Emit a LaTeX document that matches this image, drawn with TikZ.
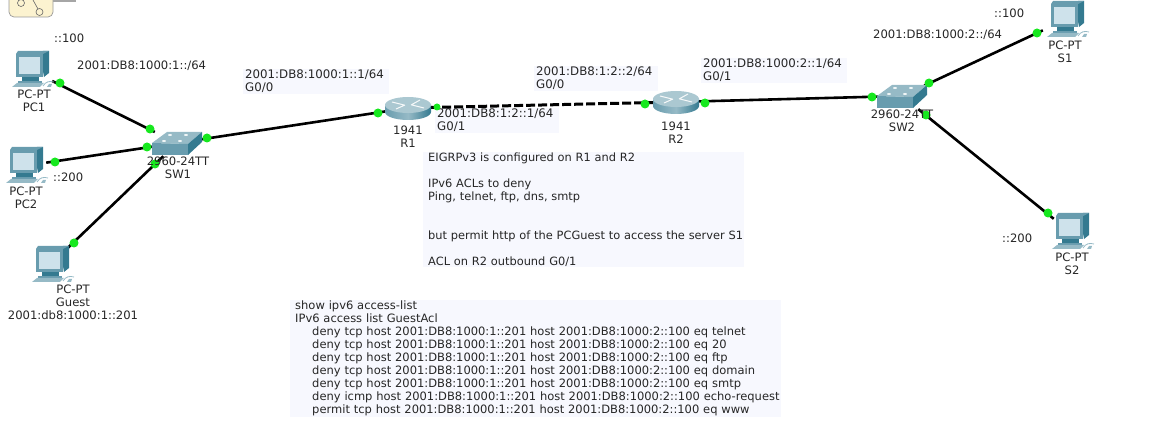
\documentclass[tikz,border=0pt]{standalone}
\usepackage{fontspec}
\setmainfont{DejaVu Sans}
\usepackage{tikz}
\usetikzlibrary{positioning}
\definecolor{ledGreen}{RGB}{22,232,30}
\definecolor{notePale}{RGB}{247,248,254}
\definecolor{devDark}{RGB}{52,122,144}
\definecolor{devMid}{RGB}{104,156,174}
\definecolor{devLight}{RGB}{150,186,198}
\definecolor{devScreen}{RGB}{206,226,235}
\definecolor{toolCream}{RGB}{252,243,208}
\tikzset{
  net/dev/.style={rectangle, inner sep=0pt, minimum width=44pt, minimum height=26pt},
  net/txt/.style={font=\fontsize{11.6}{13}\selectfont, align=center, inner sep=0pt, text=black!85},
  net/note/.style={font=\fontsize{11.8}{13}\selectfont, align=left, anchor=north west,
    fill=notePale, inner xsep=2pt, inner ysep=1pt, text=black!85},
  net/body/.style={net/note, inner xsep=0.5pt},
  net/addr/.style={net/txt, anchor=west},
  net/led/.style={circle, fill=ledGreen, inner sep=0pt, minimum size=9pt},
  net/link/.style={line width=2.6pt, draw=black},
  net/pcicon/.pic={
    \fill[devDark] (10,-16) -- (13,-19) -- (19,-19) -- (19,3) -- (14,7) -- cycle;
    \fill[devMid] (-14,-16) -- (-12,-19) -- (19,-19) -- (13,-16) -- cycle;
    \fill[devMid] (-14,-16) rectangle (13,7);
    \fill[devScreen] (-11,-13) rectangle (10,4);
    \fill[devDark] (-8,7) rectangle (9,11);
    \fill[devMid] (-12,11) -- (12,11) -- (12,13) -- (-12,13) -- cycle;
    \fill[devLight] (-18,17) -- (-13,13) -- (14,13) -- (10,17) -- cycle;
    \draw[devLight, line width=0.8pt] (13,16) .. controls (16,11) and (20,11) .. (24,12);
    \fill[devLight] (17,17) -- (19,14) -- (22,14) -- (21,17) -- cycle;
  },
  net/switchicon/.pic={
    \fill[devLight] (-25,0) -- (-10,-11) -- (25,-11) -- (11,1) -- cycle;
    \fill[devMid] (-25,0) -- (11,1) -- (11,12) -- (-25,12) -- cycle;
    \fill[devDark] (11,1) -- (25,-11) -- (25,-1) -- (11,12) -- cycle;
    \fill[white!85!devLight] (-7,-8) ellipse [x radius=2, y radius=1];
    \fill[white!85!devLight] (9,-8) ellipse [x radius=2, y radius=1];
    \fill[white!85!devLight] (-13,-2) ellipse [x radius=2, y radius=1];
    \fill[white!85!devLight] (3,-2) ellipse [x radius=2, y radius=1];
  },
  net/routericon/.pic={
    \path[left color=devMid, right color=devDark, middle color=devLight]
      (-23,-3) -- (-23,4) arc[start angle=180, end angle=0, x radius=23, y radius=8] -- (23,-3) -- cycle;
    \fill[devLight!80!white] (0,-3) ellipse [x radius=23, y radius=8];
    \draw[white!90!devLight, line width=1pt] (-16,-6) -- (-4,-3) (16,0) -- (4,-3) (-12,1) -- (-3,-3) (12,-8) -- (3,-3);
  }
}
\begin{document}
\begin{tikzpicture}[x=1pt, y=-1pt]
  \useasboundingbox (0,0) rectangle (1173,427);

  \node[net/dev] (PC1) at (30,70) {};
  \node[net/dev] (PC2) at (24,166) {};
  \node[net/dev] (Guest) at (50,265) {};
  \node[net/dev] (SW1) at (177,143) {};
  \node[net/dev] (R1) at (408,108) {};
  \node[net/dev] (R2) at (676,102) {};
  \node[net/dev] (SW2) at (902,96) {};
  \node[net/dev] (S1) at (1065,20) {};
  \node[net/dev] (S2) at (1070,232) {};

  \node[net/note, text width=142pt] (n1) at (243,68.5) {2001:DB8:1000:1::1/64\\G0/0};
  \node[net/note, text width=120pt] (n2) at (435,107.5) {2001:DB8:1:2::1/64\\G0/1};
  \node[net/note, text width=120pt] (n3) at (534,65.5) {2001:DB8:1:2::2/64\\G0/0};
  \node[net/note, text width=142pt] (n4) at (701,57.5) {2001:DB8:1000:2::1/64\\G0/1};
  \node[net/body, font=\fontsize{11.4}{13}\selectfont, text width=320pt] (n5) at (423,151.5) {%
    \hspace*{4.5pt}EIGRPv3 is configured on R1 and R2\\[13pt]
    \hspace*{4.5pt}IPv6 ACLs to deny\\
    \hspace*{4.5pt}Ping, telnet, ftp, dns, smtp\\[26pt]
    \hspace*{4.5pt}but permit http of the PCGuest to access the server S1\\[13pt]
    \hspace*{4.5pt}ACL on R2 outbound G0/1};
  \node[net/body, font=\fontsize{11.5}{13}\selectfont, text width=490pt] (n6) at (290,299.5) {%
    \hspace*{4.5pt}show ipv6 access-list\\
    \hspace*{4.5pt}IPv6 access list GuestAcl\\
    \hspace*{21.5pt}deny tcp host 2001:DB8:1000:1::201 host 2001:DB8:1000:2::100 eq telnet\\
    \hspace*{21.5pt}deny tcp host 2001:DB8:1000:1::201 host 2001:DB8:1000:2::100 eq 20\\
    \hspace*{21.5pt}deny tcp host 2001:DB8:1000:1::201 host 2001:DB8:1000:2::100 eq ftp\\
    \hspace*{21.5pt}deny tcp host 2001:DB8:1000:1::201 host 2001:DB8:1000:2::100 eq domain\\
    \hspace*{21.5pt}deny tcp host 2001:DB8:1000:1::201 host 2001:DB8:1000:2::100 eq smtp\\
    \hspace*{21.5pt}deny icmp host 2001:DB8:1000:1::201 host 2001:DB8:1000:2::100 echo-request\\
    \hspace*{21.5pt}permit tcp host 2001:DB8:1000:1::201 host 2001:DB8:1000:2::100 eq www};

  \draw[net/link] (PC1) -- (SW1);
  \draw[net/link] (PC2) -- (SW1);
  \draw[net/link] (Guest) -- (SW1);
  \draw[net/link] (SW1) -- (R1);
  \draw[net/link, line width=3pt, dash pattern=on 9pt off 3pt] (R1) -- (R2);
  \draw[net/link] (R2) -- (SW2);
  \draw[net/link] (SW2) -- (S1);
  \draw[net/link] (SW2) -- (S2);

  \pic at (PC1) {net/pcicon};
  \pic at (PC2) {net/pcicon};
  \pic at (Guest) {net/pcicon};
  \pic at (S1) {net/pcicon};
  \pic at (S2) {net/pcicon};
  \pic at (SW1) {net/switchicon};
  \pic at (SW2) {net/switchicon};
  \pic at (R1) {net/routericon};
  \pic at (R2) {net/routericon};

  \node[net/led] (l1) at (60,83) {};
  \node[net/led] (l2) at (150,129) {};
  \node[net/led] (l3) at (55,162) {};
  \node[net/led] (l4) at (147,147) {};
  \node[net/led] (l5) at (74,243) {};
  \node[net/led] (l6) at (155,164) {};
  \node[net/led] (l7) at (207,138) {};
  \node[net/led] (l8) at (378,113) {};
  \node[net/led, minimum size=7pt] (l9) at (437,107) {};
  \node[net/led] (l10) at (645,104) {};
  \node[net/led] (l11) at (705,103) {};
  \node[net/led] (l12) at (872,97) {};
  \node[net/led] (l13) at (929,83) {};
  \node[net/led] (l14) at (1037,33) {};
  \node[net/led] (l15) at (926,115) {};
  \node[net/led] (l16) at (1048,213) {};

  \node[net/txt] (PC1t) at (34,100.5) {PC-PT\\PC1};
  \node[net/txt] (PC2t) at (26,197.5) {PC-PT\\PC2};
  \node[net/txt] (Guestt) at (73,302) {PC-PT\\Guest\\2001:db8:1000:1::201};
  \node[net/txt] (SW1t) at (178,167.5) {2960-24TT\\SW1};
  \node[net/txt] (R1t) at (408,136.5) {1941\\R1};
  \node[net/txt] (R2t) at (676,132.5) {1941\\R2};
  \node[net/txt] (SW2t) at (902,120.5) {2960-24TT\\SW2};
  \node[net/txt] (S1t) at (1065,51.5) {PC-PT\\S1};
  \node[net/txt] (S2t) at (1072,264) {PC-PT\\S2};

  \node[net/addr] (a1) at (54,38) {::100};
  \node[net/addr] (a2) at (77,66) {2001:DB8:1000:1::/64};
  \node[net/addr] (a3) at (53,177) {::200};
  \node[net/addr] (a4) at (873,35) {2001:DB8:1000:2::/64};
  \node[net/addr] (a5) at (994,13) {::100};
  \node[net/addr] (a6) at (1002,238) {::200};

  \fill[black!35] (53,0) rectangle (76,2);
  \draw[fill=toolCream, draw=black!40, line width=0.7pt, rounded corners=5pt]
    (9,-6) -- (9,17) -- (53,17) -- (53,-6);
  \draw[black!60, line width=0.6pt, fill=toolCream] (21,3) circle [radius=3.5];
  \draw[black!60, line width=0.6pt] (33,0) -- (38,9);
  \draw[black!60, line width=0.6pt, fill=toolCream] (39.5,12) circle [radius=3.5];
\end{tikzpicture}
\end{document}
